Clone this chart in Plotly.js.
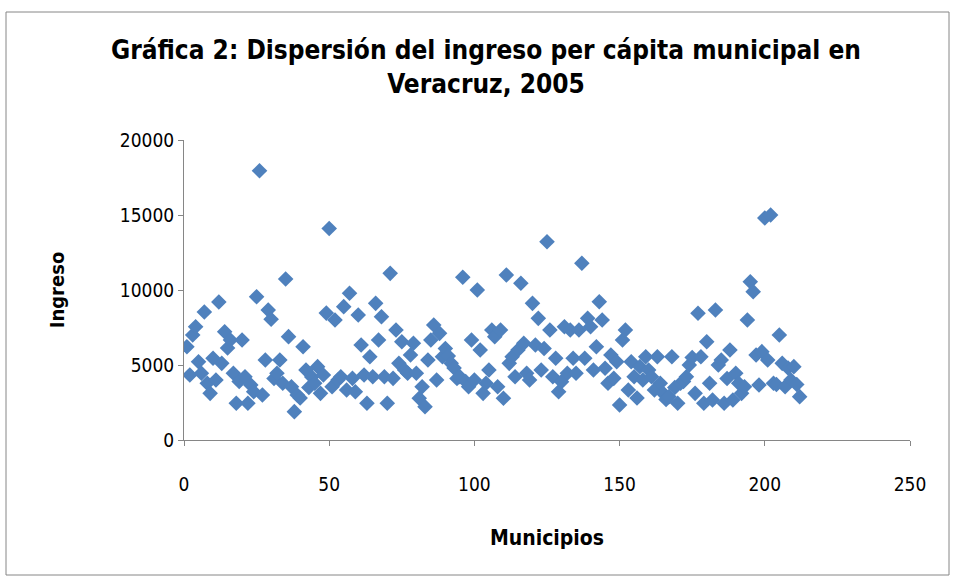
<!DOCTYPE html>
<html>
<head>
<meta charset="utf-8">
<script src="https://cdn.plot.ly/plotly-3.0.1.min.js"></script>
<style>
  html, body { margin: 0; padding: 0; background: #ffffff; }
  #chart { width: 957px; height: 579px; }
</style>
</head>
<body>
<div id="chart"></div>
<script>
// Municipality number (1..212) and per-capita income
const municipios = Array.from({length: 212}, (_, i) => i + 1);

const ingreso = [
  6220, 4330, 7000, 7550, 5220, 4450, 8530, 3780, 3110, 5450,
  4000, 9200, 5110, 7220, 6130, 6670, 4450, 2450, 3900, 6670,
  4220, 2450, 3670, 3220, 9550, 17950, 3000, 5330, 8670, 8050,
  4100, 4450, 5330, 3780, 10730, 6890, 3550, 1890, 3000, 2800,
  6220, 4670, 3500, 4200, 3780, 4890, 3110, 4330, 8460, 14100,
  3550, 8000, 4000, 4220, 8890, 3330, 9780, 4110, 3220, 8330,
  6330, 4330, 2450, 5550, 4220, 9110, 6670, 8220, 4220, 2450,
  11110, 4110, 7330, 5110, 6550, 4670, 4450, 5670, 6450, 4450,
  2780, 3550, 2220, 5330, 6670, 7670, 4000, 7110, 5550, 6100,
  5600, 5110, 4800, 4100, 4220, 10850, 3900, 3550, 6670, 4000,
  10000, 6000, 3110, 3780, 4670, 7330, 6890, 3550, 7330, 2780,
  11000, 5110, 5550, 4220, 6000, 10450, 6450, 4450, 4000, 9110,
  6330, 8110, 4670, 6100, 13220, 7330, 4220, 5450, 3220, 3890,
  7550, 4450, 7330, 5450, 4450, 7330, 11780, 5450, 8110, 7550,
  4670, 6220, 9220, 8000, 4780, 3780, 5670, 4110, 5220, 2330,
  6670, 7330, 3330, 5220, 4220, 2800, 4890, 4000, 5550, 4670,
  4220, 3330, 5550, 3780, 3110, 2700, 2890, 5550, 3500, 2450,
  3780, 3900, 4220, 5000, 5500, 3110, 8450, 5550, 2450, 6550,
  3780, 2670, 8670, 5000, 5330, 2450, 4100, 6000, 2670, 4450,
  3780, 3110, 3550, 8000, 10550, 9890, 5670, 3670, 5890, 14800,
  5330, 15000, 3780, 3700, 7000, 5110, 3550, 4800, 4000, 4890,
  3700, 2890
];

const xTicks = [0, 50, 100, 150, 200, 250];
const yTicks = [0, 5000, 10000, 15000, 20000];

const FONT = '"Liberation Sans Narrow", "DejaVu Sans Condensed", Lato, sans-serif';

const trace = {
  type: 'scatter',
  mode: 'markers',
  x: municipios,
  y: ingreso,
  marker: { symbol: 'diamond', size: 12, color: '#4F81BD', line: { width: 0 } },
  hoverinfo: 'x+y',
  showlegend: false
};

const layout = {
  width: 957,
  height: 579,
  margin: { l: 184, r: 47, t: 140, b: 139 },
  paper_bgcolor: '#ffffff',
  plot_bgcolor: '#ffffff',
  font: { family: FONT, color: '#000000', size: 18 },
  title: {
    text: '<b>Gráfica 2: Dispersión del ingreso per cápita municipal en<br>Veracruz, 2005</b>',
    font: { family: FONT, size: 26, color: '#000000' },
    x: 486 / 957, xanchor: 'center', xref: 'container',
    y: 0.898, yanchor: 'top', yref: 'container'
  },
  xaxis: {
    range: [0, 250],
    tickvals: xTicks,
    ticktext: xTicks.map(String),
    showgrid: false,
    zeroline: false,
    showline: true,
    linecolor: '#868686',
    linewidth: 1,
    ticks: 'outside',
    ticklen: 5,
    tickcolor: '#868686',
    ticklabelstandoff: 22,
    tickfont: { family: FONT, size: 19, color: '#000000' },
    title: { text: '<b>Municipios</b>', font: { family: FONT, size: 21, color: '#000000' }, standoff: 36 },
    fixedrange: true
  },
  yaxis: {
    range: [0, 20000],
    tickvals: yTicks,
    ticktext: yTicks.map(String),
    showgrid: false,
    zeroline: false,
    showline: true,
    linecolor: '#868686',
    linewidth: 1,
    ticks: 'outside',
    ticklen: 5,
    tickcolor: '#868686',
    tickfont: { family: FONT, size: 19, color: '#000000' },
    title: { text: '<b>Ingreso</b>', font: { family: FONT, size: 20, color: '#000000' }, standoff: 49 },
    fixedrange: true
  },
  shapes: [{
    type: 'rect', xref: 'paper', yref: 'paper',
    x0: (6 - 184) / 726, x1: (949 - 184) / 726,
    y0: (440 - 575) / 300, y1: (440 - 12) / 300,
    line: { color: '#868686', width: 1 },
    fillcolor: 'rgba(0,0,0,0)',
    layer: 'below'
  }]
};

Plotly.newPlot('chart', [trace], layout, { displayModeBar: false, staticPlot: true });
</script>
</body>
</html>
